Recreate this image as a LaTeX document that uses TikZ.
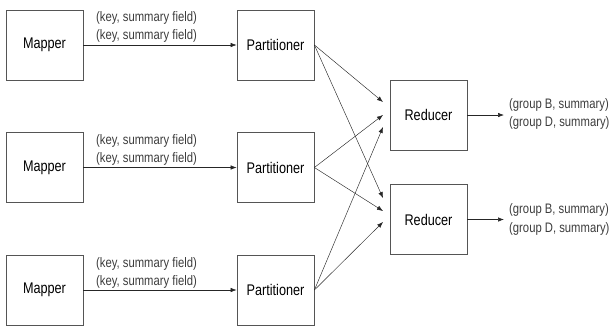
\documentclass[tikz,border=0pt]{standalone}
\usepackage{fontspec}
\setmainfont{Liberation Sans}
\newfontfamily\nfont[FakeStretch=0.82]{Liberation Sans}
\usetikzlibrary{arrows.meta}
\definecolor{boxgray}{HTML}{555555}
\definecolor{labgray}{HTML}{3C3C3C}
\begin{document}
\begin{tikzpicture}[x=1bp,y=-1bp,
  box/.style={draw=boxgray, line width=0.8bp, minimum width=77bp, minimum height=70bp, inner sep=0pt, font=\nfont\fontsize{15.5}{18}\selectfont},
  lab/.style={anchor=west, inner sep=0pt, text=labgray, font=\nfont\fontsize{13.8}{16}\selectfont},
  arr/.style={draw=black!85, line width=0.6bp, -{Latex[length=6bp,width=4.5bp]}},
  fan/.style={draw=black!85, line width=0.45bp, -{Latex[length=6bp,width=4.5bp]}}]
\useasboundingbox (0,0) rectangle (613,327);
% mappers
\node[box] (m1) at (44.5,45) {Mapper};
\node[box] (m2) at (44.5,167.5) {Mapper};
\node[box] (m3) at (44.5,290) {Mapper};
% partitioners
\node[box] (p1) at (275.5,45) {Partitioner};
\node[box] (p2) at (275.5,167.5) {Partitioner};
\node[box] (p3) at (275.5,290) {Partitioner};
% reducers
\node[box] (r1) at (428.5,115) {Reducer};
\node[box] (r2) at (428.5,219.5) {Reducer};
% mapper -> partitioner
\draw[arr] (m1) -- (p1);
\draw[arr] (m2) -- (p2);
\draw[arr] (m3) -- (p3);
% labels
\node[lab] (l1a) at (96,18) {(key, summary field)};
\node[lab] (l1b) at (96,36) {(key, summary field)};
\node[lab] (l2a) at (96,141) {(key, summary field)};
\node[lab] (l2b) at (96,158.5) {(key, summary field)};
\node[lab] (l3a) at (96,263.5) {(key, summary field)};
\node[lab] (l3b) at (96,281.5) {(key, summary field)};
% targets
\coordinate (t1a) at (383,102);
\coordinate (t1b) at (383,115);
\coordinate (t1c) at (383,127);
\coordinate (t2a) at (383,198);
\coordinate (t2b) at (383,211);
\coordinate (t2c) at (383,222);
\draw[fan] (p1.east) -- (t1a);
\draw[fan] (p1.east) -- (t2a);
\draw[fan] (p2.east) -- (t1b);
\draw[fan] (p2.east) -- (t2b);
\draw[fan] (p3.east) -- (t1c);
\draw[fan] (p3.east) -- (t2c);
% outputs
\coordinate (o1) at (504,115);
\coordinate (o2) at (504,219.5);
\draw[arr] (r1) -- (o1);
\draw[arr] (r2) -- (o2);
\node[lab] (g1a) at (509,105) {(group B, summary)};
\node[lab] (g1b) at (509,123) {(group D, summary)};
\node[lab] (g2a) at (509,210) {(group B, summary)};
\node[lab] (g2b) at (509,228.5) {(group D, summary)};
\end{tikzpicture}
\end{document}
